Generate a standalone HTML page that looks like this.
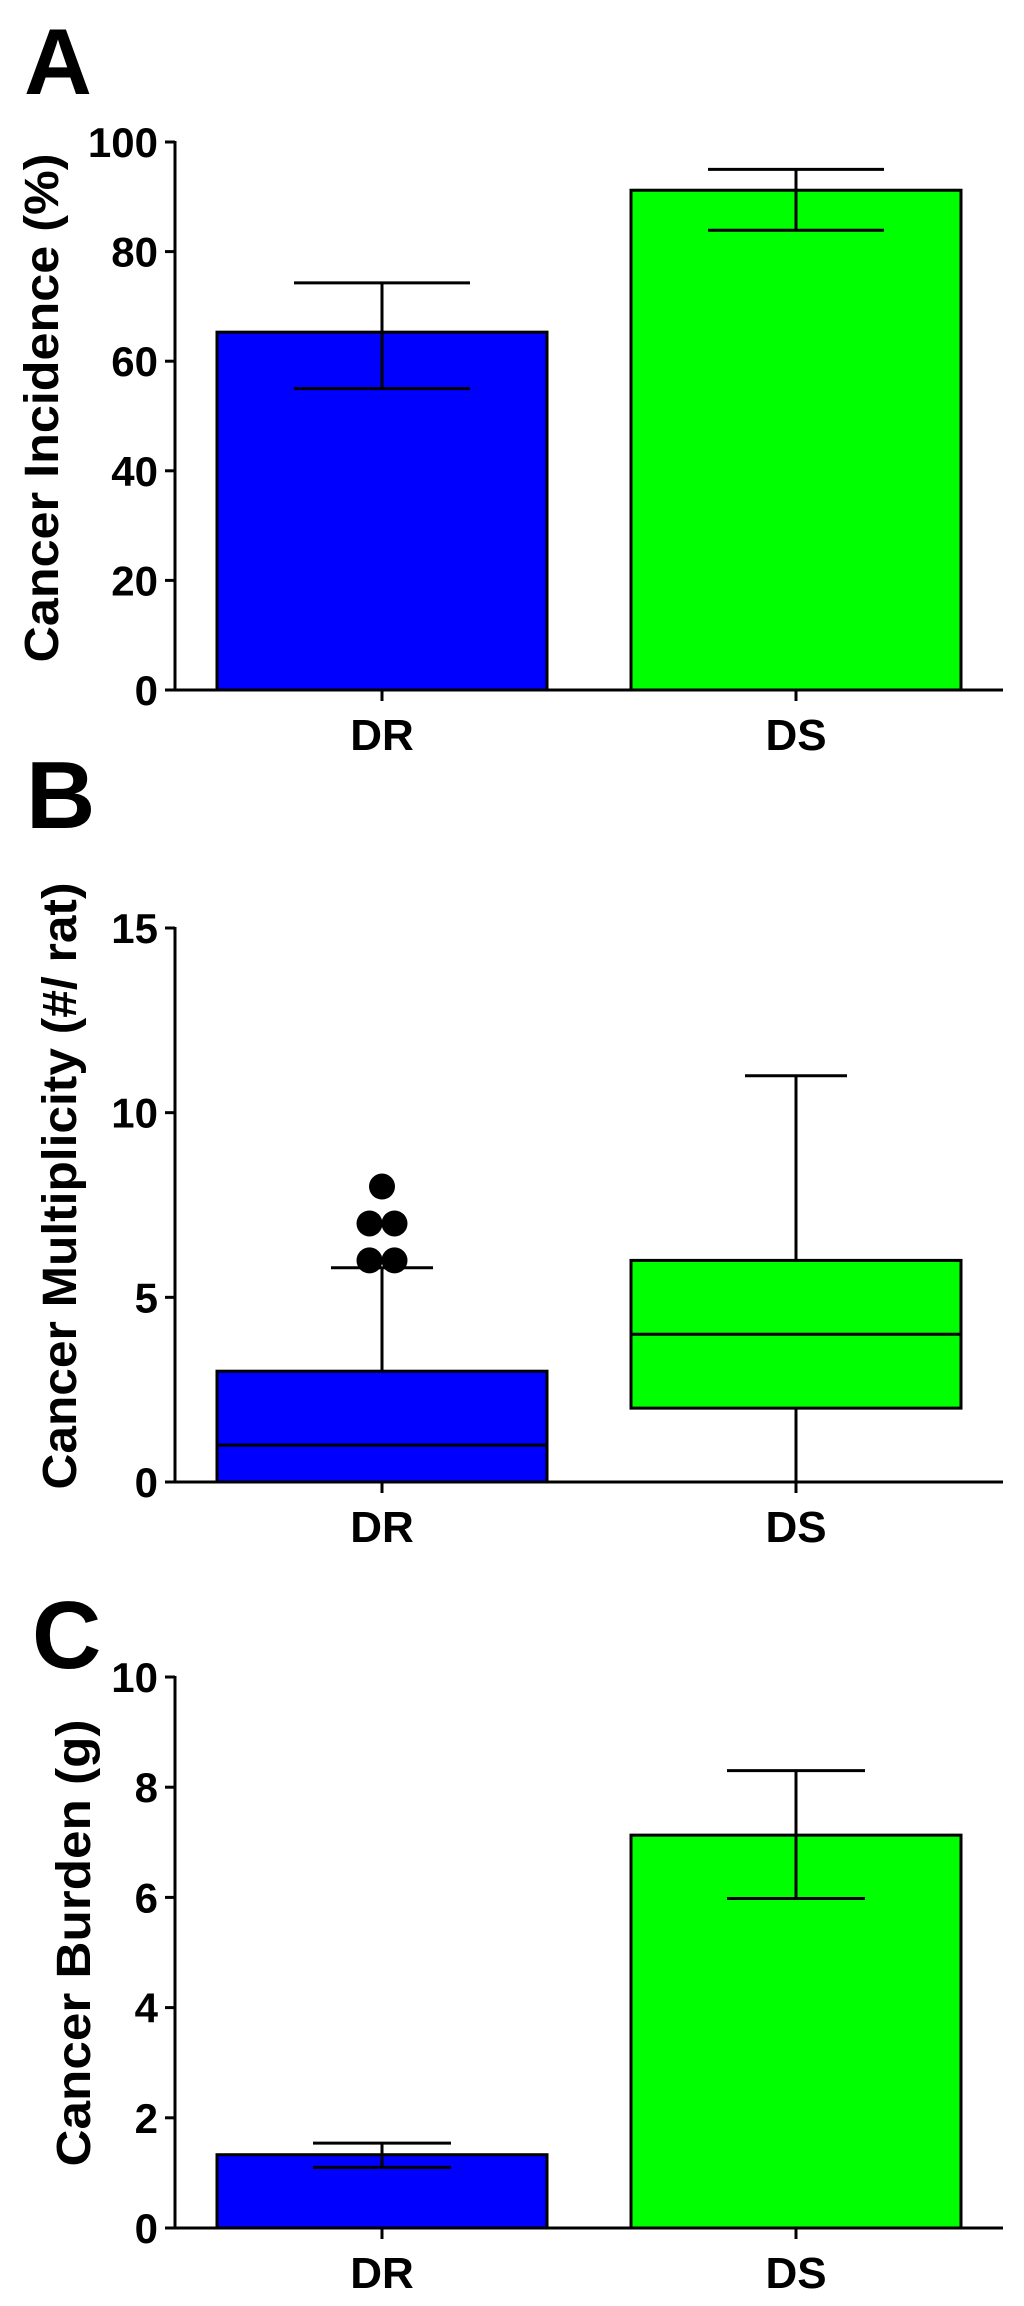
<!DOCTYPE html>
<html><head><meta charset="utf-8"><style>
html,body{margin:0;padding:0;background:#fff;}
svg{display:block;font-family:"Liberation Sans",Arial,sans-serif;font-weight:bold;}
</style></head><body>
<svg id="fig" width="1024" height="2306" viewBox="0 0 1024 2306" xmlns="http://www.w3.org/2000/svg"></svg>
<script>
// Panel A data
const aCategories = ["DR", "DS"];
const aMeans = [65.3, 91.2];
const aErrHigh = [74.3, 95.0];
const aErrLow = [55.0, 83.9];
const aTicks = [0, 20, 40, 60, 80, 100];
// Panel B data (box plot)
const bCategories = ["DR", "DS"];
const bMin = [0, 0];
const bQ1 = [0, 2];
const bMedian = [1, 4];
const bQ3 = [3, 6];
const bWhiskerHigh = [5.8, 11];
const bOutliers = [[8, 7, 7, 6, 6], []];
const bTicks = [0, 5, 10, 15];
// Panel C data
const cCategories = ["DR", "DS"];
const cMeans = [1.33, 7.13];
const cErrHigh = [1.54, 8.30];
const cErrLow = [1.10, 5.98];
const cTicks = [0, 2, 4, 6, 8, 10];

const NS = "http://www.w3.org/2000/svg";
const svg = document.getElementById("fig");
const colors = ["#0000ff", "#00ff00"];
function mk(tag, attrs, parent) {
  const e = document.createElementNS(NS, tag);
  for (const k in attrs) e.setAttribute(k, attrs[k]);
  (parent || svg).appendChild(e);
  return e;
}
const AX = 175, AXR = 1003;
const xCenters = [382, 796];
const barHalf = 165;

function axes(g, yScale, ticks, y0, title, titleX, titleY, titleLen, cats) {
  const ya = mk("line", {x1: AX, x2: AX, y1: yScale(ticks[ticks.length-1]) - 1, y2: y0 + 1.5, stroke: "#000", "stroke-width": 3}, g);
  
  
  const xa = mk("line", {x1: 165, x2: AXR, y1: y0, y2: y0, stroke: "#000", "stroke-width": 3}, g);
  
  
  ticks.forEach(t => {
    const y = yScale(t);
    const tl = mk("line", {x1: 165, x2: AX, y1: y, y2: y, stroke: "#000", "stroke-width": 3}, g);
    
    
    const tx = mk("text", {x: 158, y: y + 15, "text-anchor": "end", "font-size": 42}, g);
    
    
    tx.textContent = t;
  });
  cats.forEach((c, i) => {
    const tk = mk("line", {x1: xCenters[i], x2: xCenters[i], y1: y0, y2: y0 + 11, stroke: "#000", "stroke-width": 3}, g);
    
    
    const lb = mk("text", {x: xCenters[i], y: y0 + 60, "text-anchor": "middle", "font-size": 44}, g);
    
    
    lb.textContent = c;
  });
  const tt = mk("text", {x: 0, y: 0, "text-anchor": "middle", "font-size": 48, textLength: titleLen, lengthAdjust: "spacingAndGlyphs", transform: `translate(${titleX},${titleY}) rotate(-90)`}, g);
  
  
  tt.textContent = title;
}
function panelLetter(letter, x, y, size) {
  const t = mk("text", {x: x, y: y, "font-size": size});
  
  
  t.textContent = letter;
}
function barPanel(name, cats, means, hi, lo, ticks, yTop, y0, capHalf, title, tX, tY, tLen) {
  const g = mk("g", {});
  
  
  const vmax = ticks[ticks.length-1];
  const ys = v => y0 - (v / vmax) * (y0 - yTop);
  cats.forEach((c, i) => {
    const r = mk("rect", {x: xCenters[i] - barHalf, y: ys(means[i]), width: 2 * barHalf, height: y0 - ys(means[i]), fill: colors[i], stroke: "#000", "stroke-width": 3}, g);
    
    
    const e = mk("path", {d: `M${xCenters[i]},${ys(hi[i])}V${ys(lo[i])}M${xCenters[i]-capHalf},${ys(hi[i])}H${xCenters[i]+capHalf}M${xCenters[i]-capHalf},${ys(lo[i])}H${xCenters[i]+capHalf}`, stroke: "#000", "stroke-width": 3, fill: "none"}, g);
    
    
  });
  axes(g, ys, ticks, y0, title, tX, tY, tLen, cats);
}

// Panel A
panelLetter("A", 24, 94, 94);
barPanel("panel-a-chart", aCategories, aMeans, aErrHigh, aErrLow, aTicks, 142, 690, 88, "Cancer Incidence (%)", 58, 408, 509);

// Panel B
panelLetter("B", 26, 828, 96);
(function(){
  const g = mk("g", {});
  
  
  const yTop = 928, y0 = 1482, vmax = bTicks[bTicks.length-1];
  const ys = v => y0 - (v / vmax) * (y0 - yTop);
  bCategories.forEach((c, i) => {
    const cx = xCenters[i];
    const w = mk("path", {d: `M${cx},${ys(bQ3[i])}V${ys(bWhiskerHigh[i])}M${cx-51},${ys(bWhiskerHigh[i])}H${cx+51}` + (bQ1[i] > bMin[i] ? `M${cx},${ys(bQ1[i])}V${ys(bMin[i])}M${cx-51},${ys(bMin[i])}H${cx+51}` : ""), stroke: "#000", "stroke-width": 3, fill: "none"}, g);
    
    
    const r = mk("rect", {x: cx - barHalf, y: ys(bQ3[i]), width: 2 * barHalf, height: ys(bQ1[i]) - ys(bQ3[i]), fill: colors[i], stroke: "#000", "stroke-width": 3}, g);
    
    
    const m = mk("line", {x1: cx - barHalf, x2: cx + barHalf, y1: ys(bMedian[i]), y2: ys(bMedian[i]), stroke: "#000", "stroke-width": 3}, g);
    
    
    const seen = {};
    bOutliers[i].forEach(v => {
      const n = bOutliers[i].filter(x => x === v).length;
      seen[v] = (seen[v] || 0) + 1;
      const k = seen[v] - 1;
      const off = n === 1 ? 0 : (k - (n - 1) / 2) * 25;
      const d = mk("circle", {cx: cx + off, cy: ys(v), r: 13, fill: "#000"}, g);
      
      
    });
  });
  axes(g, ys, bTicks, y0, "Cancer Multiplicity (#/ rat)", 76, 1186, 607, bCategories);
})();

// Panel C
panelLetter("C", 32, 1668, 96);
barPanel("panel-c-chart", cCategories, cMeans, cErrHigh, cErrLow, cTicks, 1677, 2228, 69, "Cancer Burden (g)", 90, 1943, 447);
</script>
</body></html>
